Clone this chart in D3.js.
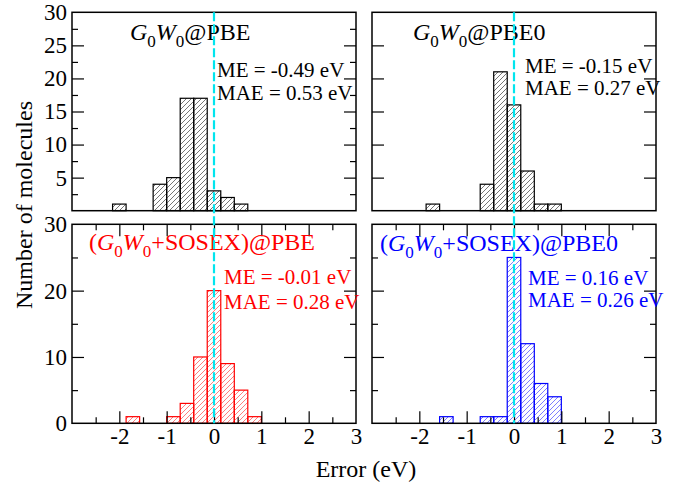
<!DOCTYPE html>
<html>
<head>
<meta charset="utf-8">
<script src="https://cdn.jsdelivr.net/npm/d3@7"></script>
<style>
  body { margin: 0; background: #fff; }
  text { font-family: "Liberation Serif", "Times New Roman", serif; }
</style>
</head>
<body>
<div id="chart"></div>
<script>
// histogram data, bin width 2/7 eV, bins given by their centres
const binWidth = 0.2857;

const pbeCenters   = [-2.0, -1.143, -0.857, -0.571, -0.286, 0, 0.286, 0.571];
const pbeCounts    = [1, 4, 5, 17, 17, 3, 2, 1];

const pbe0Centers  = [-1.714, -0.571, -0.286, 0, 0.286, 0.571, 0.857];
const pbe0Counts   = [1, 4, 21, 16, 6, 1, 1];

const sosexPbeCenters  = [-1.714, -0.857, -0.571, -0.286, 0, 0.286, 0.571, 0.857];
const sosexPbeCounts   = [1, 1, 3, 10, 20, 9, 5, 1];

const sosexPbe0Centers = [-1.429, -0.571, -0.286, 0, 0.286, 0.571, 0.857];
const sosexPbe0Counts  = [1, 1, 1, 25, 12, 6, 4];

const meLabels  = ["ME = -0.49 eV", "ME = -0.15 eV", "ME = -0.01 eV", "ME = 0.16 eV"];
const maeLabels = ["MAE = 0.53 eV", "MAE = 0.27 eV", "MAE = 0.28 eV", "MAE = 0.26 eV"];

const xTicks = [-2, -1, 0, 1, 2, 3];

const W = 682, H = 485;
const svg = d3.select("#chart").append("svg")
    .attr("width", W).attr("height", H);

const defs = svg.append("defs");
function hatch(id, color) {
  const p = defs.append("pattern")
      .attr("id", id)
      .attr("patternUnits", "userSpaceOnUse")
      .attr("width", 5).attr("height", 5);
  p.append("path")
      .attr("d", "M0,5 L5,0 M-1.25,1.25 L1.25,-1.25 M3.75,6.25 L6.25,3.75")
      .attr("stroke", color).attr("stroke-width", 0.9);
}
hatch("h-black", "#666");
hatch("h-red", "#ff7070");
hatch("h-blue", "#7070ff");

// panel frames
const cols = [[72, 356], [372, 656]];
const rows = [[12.3, 210.7], [224.3, 423.3]];

const panels = [
  {c: 0, r: 0, centers: pbeCenters, counts: pbeCounts, color: "#000", fill: "h-black",
   title: ["", "@PBE"], tx: 130, ty: 40, mx: 217, my: [77, 100],
   major: [5, 10, 15, 20, 25], minor: [2.5, 7.5, 12.5, 17.5, 22.5, 27.5], labels: [5, 10, 15, 20, 25, 30]},
  {c: 1, r: 0, centers: pbe0Centers, counts: pbe0Counts, color: "#000", fill: "h-black",
   title: ["", "@PBE0"], tx: 413, ty: 40, mx: 525, my: [73, 95],
   major: [5, 10, 15, 20, 25], minor: [], labels: []},
  {c: 0, r: 1, centers: sosexPbeCenters, counts: sosexPbeCounts, color: "#ff0000", fill: "h-red",
   title: ["(", "+SOSEX)@PBE"], tx: 89, ty: 250, mx: 224, my: [284, 309],
   major: [10, 20], minor: [5, 15, 25], labels: [0, 10, 20, 30]},
  {c: 1, r: 1, centers: sosexPbe0Centers, counts: sosexPbe0Counts, color: "#0000ff", fill: "h-blue",
   title: ["(", "+SOSEX)@PBE0"], tx: 380, ty: 251, mx: 528, my: [285, 307],
   major: [10, 20], minor: [5, 15, 25], labels: []}
];

panels.forEach((p, i) => {
  const x = d3.scaleLinear().domain([-3, 3]).range(cols[p.c]);
  const y = d3.scaleLinear().domain([0, 30]).range([rows[p.r][1], rows[p.r][0]]);
  const g = svg.append("g");
  const x0 = cols[p.c][0], x1 = cols[p.c][1];

  // bars
  g.selectAll("rect.bar")
    .data(p.centers.map((c, k) => ({c: c, n: p.counts[k]})))
    .join("rect")
      .attr("class", "bar")
      .attr("x", d => x(d.c - binWidth / 2))
      .attr("width", d => x(d.c + binWidth / 2) - x(d.c - binWidth / 2))
      .attr("y", d => y(d.n))
      .attr("height", d => y(0) - y(d.n))
      .attr("fill", "url(#" + p.fill + ")")
      .attr("stroke", p.color)
      .attr("stroke-width", 1.2);

  // y ticks, both sides, pointing inward
  const yAxis = (vals, len, side) => {
    const ax = (side === "left" ? d3.axisLeft(y) : d3.axisRight(y))
        .tickValues(vals).tickSize(-len).tickFormat("");
    const a = g.append("g")
        .attr("transform", `translate(${side === "left" ? x0 : x1},0)`)
        .call(ax);
    a.select(".domain").remove();
    a.selectAll("line").attr("stroke", "#000").attr("stroke-width", 1.2);
  };
  yAxis(p.major, 12, "left");
  yAxis(p.major, 12, "right");
  if (p.minor.length) {
    yAxis(p.minor, 6, "left");
    yAxis(p.minor, 6, "right");
  }

  if (p.labels.length) {
    const la = g.append("g")
        .attr("transform", `translate(${x0},0)`)
        .call(d3.axisLeft(y).tickValues(p.labels).tickSize(0).tickPadding(5)
          .tickFormat(d3.format("d")));
    la.select(".domain").remove();
    la.selectAll("text")
        .style("font-family", "Liberation Serif")
        .style("font-size", "23px").attr("fill", "#000");
  }

  // x ticks only on bottom row
  if (p.r === 1) {
    const xMajor = [-2, -1, 0, 1, 2];
    const xMinor = [-2.5, -1.5, -0.5, 0.5, 1.5, 2.5];
    const xAxis = (vals, len, side) => {
      const ax = (side === "bottom" ? d3.axisBottom(x) : d3.axisTop(x))
          .tickValues(vals).tickSize(-len).tickFormat("");
      const a = g.append("g")
          .attr("transform", `translate(0,${side === "bottom" ? rows[1][1] : rows[1][0]})`)
          .call(ax);
      a.select(".domain").remove();
      a.selectAll("line").attr("stroke", "#000").attr("stroke-width", 1.2);
    };
    xAxis(xMajor, 12, "bottom");
    xAxis(xMinor, 6, "bottom");
    xAxis(xMajor, 12, "top");
    xAxis(xMinor, 6, "top");

    const lx = g.append("g")
        .attr("transform", `translate(0,${rows[1][1]})`)
        .call(d3.axisBottom(x).tickValues(xTicks).tickSize(0).tickPadding(4)
          .tickFormat(d3.format("d")));
    lx.select(".domain").remove();
    lx.selectAll("text")
        .style("font-family", "Liberation Serif")
        .style("font-size", "23px").attr("fill", "#000")
        .text(d => d < 0 ? "-" + Math.abs(d) : d);
  }

  // frame
  g.append("rect")
      .attr("x", x0).attr("y", rows[p.r][0])
      .attr("width", x1 - x0).attr("height", rows[p.r][1] - rows[p.r][0])
      .attr("fill", "none").attr("stroke", "#000").attr("stroke-width", 1.5);

  // title G0W0 with subscripts
  const t = g.append("text")
      .attr("x", p.tx).attr("y", p.ty)
      .attr("fill", p.color).style("font-size", "24px");
  if (p.title[0]) t.append("tspan").text(p.title[0]);
  t.append("tspan").attr("font-style", "italic").text("G");
  t.append("tspan").attr("font-size", "17px").attr("dy", 7).text("0");
  t.append("tspan").attr("font-style", "italic").attr("dy", -7).text("W");
  t.append("tspan").attr("font-size", "17px").attr("dy", 7).text("0");
  t.append("tspan").attr("dy", -7).text(p.title[1]);

  // statistics
  [meLabels[i], maeLabels[i]].forEach((s, k) => {
    g.append("text")
        .attr("x", p.mx).attr("y", p.my[k])
        .attr("fill", p.color)
        .style("font-size", "21px")
        .text(s);
  });
});

// cyan dashed zero lines across both rows
cols.forEach(cx => {
  const x = d3.scaleLinear().domain([-3, 3]).range(cx);
  svg.append("line")
      .attr("x1", x(0)).attr("x2", x(0))
      .attr("y1", rows[0][0]).attr("y2", rows[1][1])
      .attr("stroke", "#00e5ee").attr("stroke-width", 2.2)
      .attr("stroke-dasharray", "9,3");
});

// axis titles
svg.append("text")
    .attr("x", 366).attr("y", 477)
    .attr("text-anchor", "middle")
    .style("font-size", "24px")
    .text("Error (eV)");

svg.append("text")
    .attr("transform", "translate(32,205) rotate(-90)")
    .attr("text-anchor", "middle")
    .style("font-size", "24px")
    .text("Number of molecules");
</script>
</body>
</html>
